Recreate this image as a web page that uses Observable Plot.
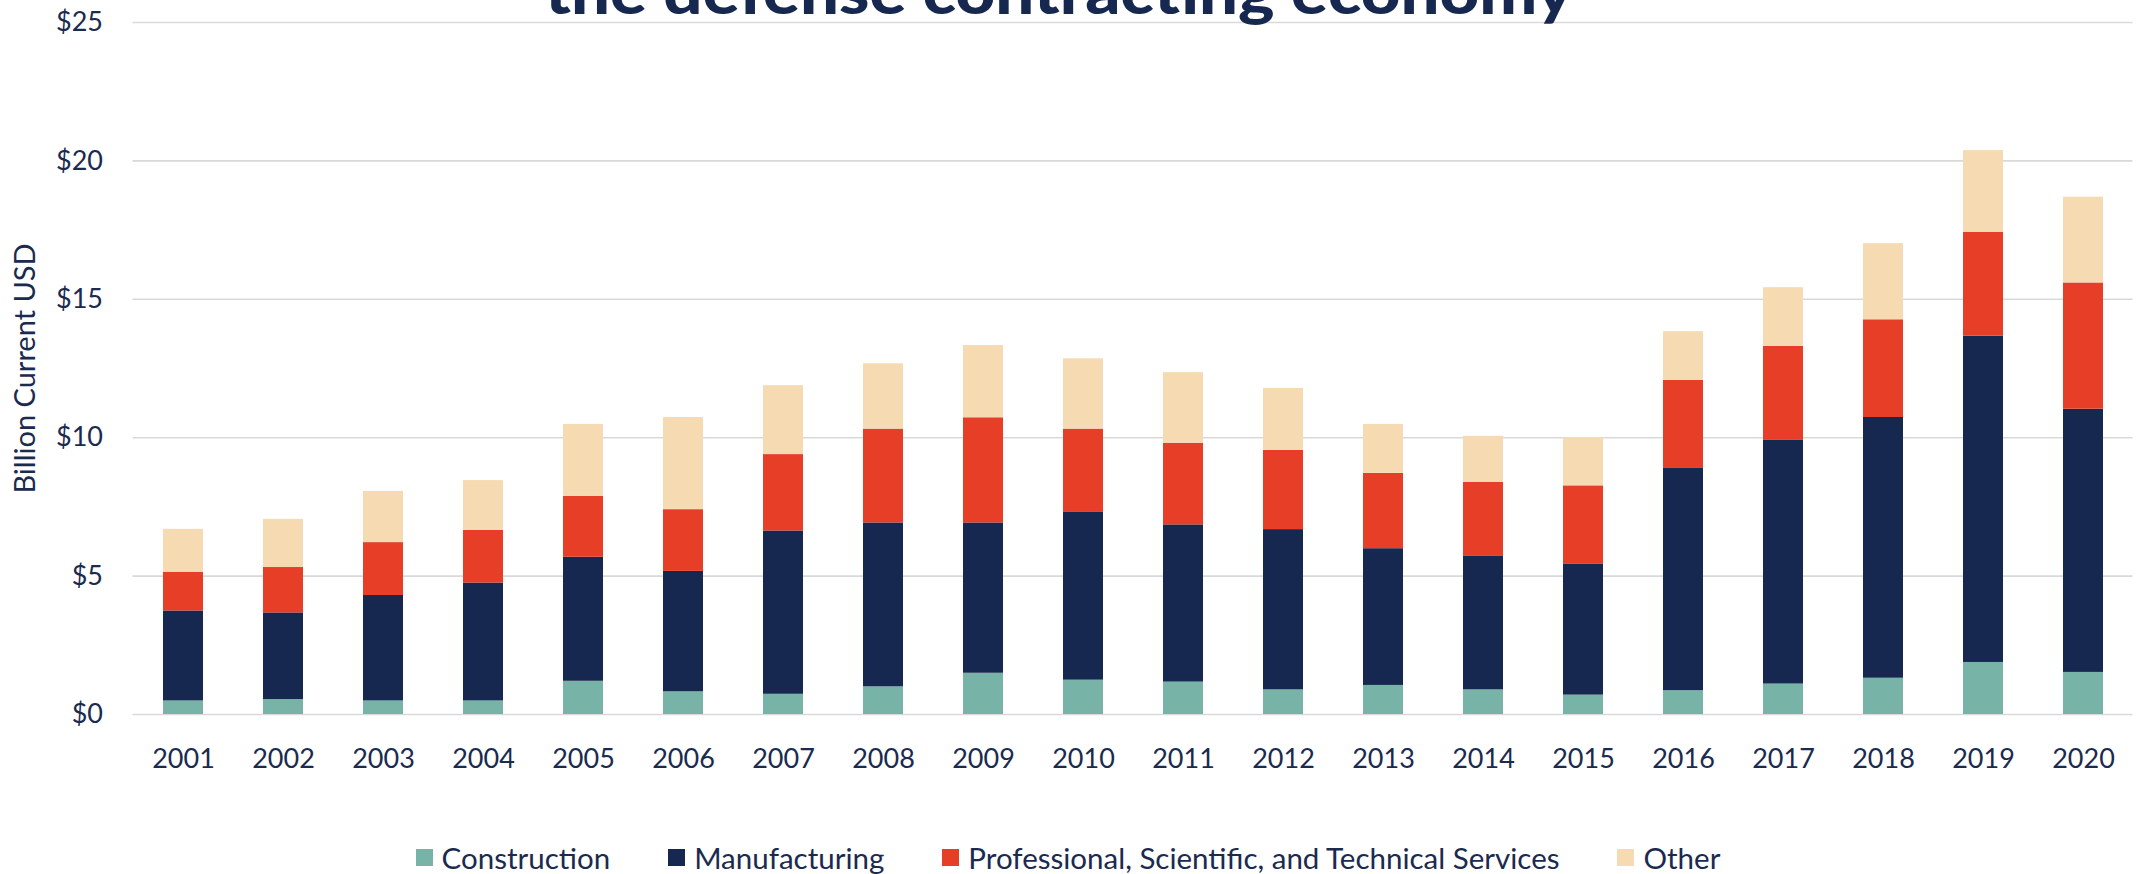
<!DOCTYPE html>
<html><head><meta charset="utf-8">
<script src="https://cdn.jsdelivr.net/npm/d3@7"></script>
<script src="https://cdn.jsdelivr.net/npm/@observablehq/plot@0.6"></script>
<style>
html,body{margin:0;padding:0;background:#fff;overflow:hidden}
#wrap{position:relative;width:2136px;height:874px;font-family:Lato,sans-serif;color:#1b2a4f;background:#fff}
#chart{position:absolute;left:0;top:0}
#title{position:absolute;left:0;top:0}
#legend{position:absolute;left:0;top:840px;width:2136px;display:flex;justify-content:center}
.lg-swatches{font-family:Lato,sans-serif!important;font-size:29.5px!important;color:#1b2a4f!important;margin:0!important;display:flex!important;justify-content:center}
.lg-swatch{margin-right:58px!important}
.lg-swatch:last-child{margin-right:0!important}
.lg-swatch > svg{margin-right:9px!important}
</style></head><body>
<div id="wrap"><div id="chart"></div><svg id="title" width="2136" height="30"></svg><div id="legend"></div></div>
<script>
const years = ["2001","2002","2003","2004","2005","2006","2007","2008","2009","2010","2011","2012","2013","2014","2015","2016","2017","2018","2019","2020"];
const categories = ["Construction","Manufacturing","Professional, Scientific, and Technical Services","Other"];
const colors = ["#78b3a7","#16284f","#e73e27","#f6dbb2"];
const construction = [0.49,0.54,0.49,0.49,1.20,0.82,0.73,1.00,1.49,1.24,1.17,0.89,1.05,0.89,0.70,0.86,1.10,1.31,1.88,1.52];
const manufacturing = [3.25,3.13,3.81,4.26,4.48,4.35,5.90,5.92,5.43,6.08,5.68,5.79,4.94,4.84,4.74,8.05,8.82,9.42,11.79,9.51];
const professional = [1.40,1.64,1.91,1.90,2.20,2.23,2.76,3.39,3.80,2.99,2.95,2.86,2.72,2.66,2.82,3.16,3.38,3.53,3.75,4.56];
const other = [1.55,1.74,1.85,1.80,2.60,3.33,2.49,2.36,2.61,2.54,2.55,2.24,1.77,1.66,1.74,1.76,2.12,2.75,2.95,3.10];
const yTicks = [0,5,10,15,20,25];
const titleText = "the defense contracting economy";
const yLabel = "Billion Current USD";

const series = [construction, manufacturing, professional, other];
const data = categories.flatMap((c, i) => years.map((y, j) => ({year: y, category: c, value: series[i][j]})));

const chart = Plot.plot({
  width: 2136, height: 790,
  marginTop: 22, marginBottom: 76, marginLeft: 132.5, marginRight: 3.5,
  style: {fontFamily: "Lato, sans-serif", fontSize: "27px", color: "#1b2a4f", background: "white"},
  x: {type: "band", domain: years, paddingInner: 0.6, paddingOuter: 0.3, label: null},
  y: {domain: [0, 25]},
  color: {domain: categories, range: colors},
  marks: [
    Plot.gridY(yTicks, {stroke: "#d9d9d9", strokeOpacity: 1, strokeWidth: 1.6}),
    Plot.barY(data, {x: "year", y: "value", fill: "category"}),
    Plot.axisX({tickSize: 0, tickPadding: 34, label: null, fontSize: 27}),
    Plot.axisY(yTicks, {tickFormat: d => "$" + d, tickSize: 0, tickPadding: 30, label: null, fontSize: 27}),
    Plot.axisY([], {label: yLabel, labelAnchor: "center", labelOffset: 119, labelArrow: "none", fontSize: 29, tickSize: 0})
  ]
});
document.getElementById("chart").appendChild(chart);

d3.select("#title").append("text")
  .attr("x", 1059).attr("y", 14)
  .attr("text-anchor", "middle")
  .attr("textLength", 1028).attr("lengthAdjust", "spacingAndGlyphs")
  .attr("fill", "#16284f")
  .style("font-family", "Lato, sans-serif").style("font-weight", "900").style("font-size", "60px")
  .text(titleText);

const lg = Plot.legend({color: {domain: categories, range: colors}, swatchSize: 17, className: "lg"});
document.getElementById("legend").appendChild(lg);
</script>
</body></html>
